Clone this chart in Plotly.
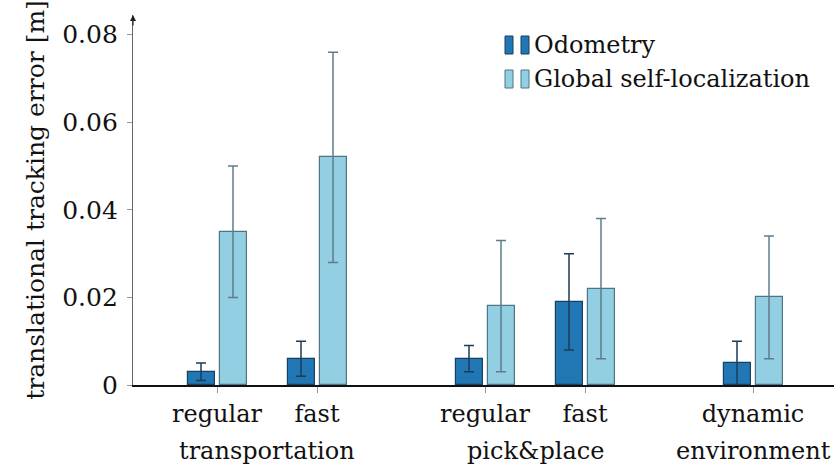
import plotly.graph_objects as go

# Scenario labels (first tick row) and their group labels (second row)
scenarios = ["regular", "fast", "regular", "fast", "dynamic"]
groups = ["transportation", "pick&place", "environment"]
group_members = [[0, 1], [2, 3], [4]]

# Mean translational tracking error [m] and spread per scenario
odometry = [0.003, 0.006, 0.006, 0.019, 0.005]
odometry_err = [0.002, 0.004, 0.003, 0.011, 0.005]
global_loc = [0.035, 0.052, 0.018, 0.022, 0.020]
global_loc_err = [0.015, 0.024, 0.015, 0.016, 0.014]

# x layout: unit spacing inside a group, wider spacing between groups
pos = []
x = 0.84
for members in group_members:
    for _ in members:
        pos.append(x)
        x += 1.0
    x += 0.68
pos = [round(p, 3) for p in pos]

FONT = "DejaVu Serif"
ODO_FILL, ODO_LINE, ODO_ERR = "#2077b4", "#17415f", "#1d3d57"
GL_FILL, GL_LINE, GL_ERR = "#92cfe3", "#4f7585", "#5f7c8a"

fig = go.Figure()
fig.add_trace(go.Bar(
    x=pos, y=odometry, name="Odometry",
    width=0.27, offset=-0.295,
    marker=dict(color=ODO_FILL, line=dict(color=ODO_LINE, width=1.2)),
    error_y=dict(type="data", array=odometry_err, color=ODO_ERR, thickness=1.5, width=5),
))
fig.add_trace(go.Bar(
    x=pos, y=global_loc, name="Global self-localization",
    width=0.27, offset=0.025,
    marker=dict(color=GL_FILL, line=dict(color=GL_LINE, width=1.2)),
    error_y=dict(type="data", array=global_loc_err, color=GL_ERR, thickness=1.5, width=5),
))

annotations = []
# group labels under the tick labels
for name, members in zip(groups, group_members):
    cx = sum(pos[m] for m in members) / len(members)
    annotations.append(dict(
        x=cx, y=-0.178, xref="x", yref="paper", text=name, showarrow=False,
        font=dict(family=FONT, size=24, color="#111"), xanchor="center", yanchor="middle",
    ))
# arrow head on top of the y axis
annotations.append(dict(
    x=0, y=1, xref="paper", yref="paper", ax=0, ay=12, axref="pixel", ayref="pixel",
    showarrow=True, arrowhead=2, arrowsize=1.0, arrowwidth=1.2, arrowcolor="#222", text="",
))

# hand-drawn legend: paired bar swatches + labels
legend_rows = [("Odometry", ODO_FILL, ODO_LINE, 45), ("Global self-localization", GL_FILL, GL_LINE, 79)]
shapes = []
W, H = 834, 468
L, T, B = 133, 15, 83
pw, ph = W - L, H - T - B
def px(xp):
    return (xp - L) / pw
def py(yp):
    return 1 - (yp - T) / ph
for label, fill, line, yc in legend_rows:
    for x0 in (505, 521):
        shapes.append(dict(type="rect", xref="paper", yref="paper",
                           x0=px(x0), x1=px(x0 + 8), y0=py(yc + 9), y1=py(yc - 9),
                           fillcolor=fill, line=dict(color=line, width=1)))
    annotations.append(dict(x=px(532), y=py(yc), xref="paper", yref="paper", text=label,
                            showarrow=False, xanchor="left", yanchor="middle",
                            font=dict(family=FONT, size=24, color="#111")))

fig.update_layout(
    width=W, height=H,
    margin=dict(l=L, r=0, t=T, b=B),
    paper_bgcolor="white", plot_bgcolor="white",
    showlegend=False,
    bargap=0,
    font=dict(family=FONT, size=24, color="#111"),
    annotations=annotations, shapes=shapes,
    xaxis=dict(
        range=[0, 7.01], tickmode="array", tickvals=pos, ticktext=scenarios,
        showline=True, linecolor="#111", linewidth=1.5,
        ticks="outside", ticklen=6, tickcolor="#999", tickwidth=1.2,
        showgrid=False, zeroline=False, tickfont=dict(family=FONT, size=24, color="#111"),
    ),
    yaxis=dict(
        range=[0, 0.0845], tickmode="array", tickvals=[0, 0.02, 0.04, 0.06, 0.08],
        ticktext=["0", "0.02", "0.04", "0.06", "0.08"],
        showline=True, linecolor="#666", linewidth=1.2,
        ticks="outside", ticklen=5, tickcolor="#999", tickwidth=1,
        showgrid=False, zeroline=False, ticklabelstandoff=4,
        tickfont=dict(family=FONT, size=25, color="#111"),
        title=dict(text="translational tracking error [m]", standoff=10,
                   font=dict(family=FONT, size=25, color="#111")),
    ),
)

fig.write_html("out.html")
